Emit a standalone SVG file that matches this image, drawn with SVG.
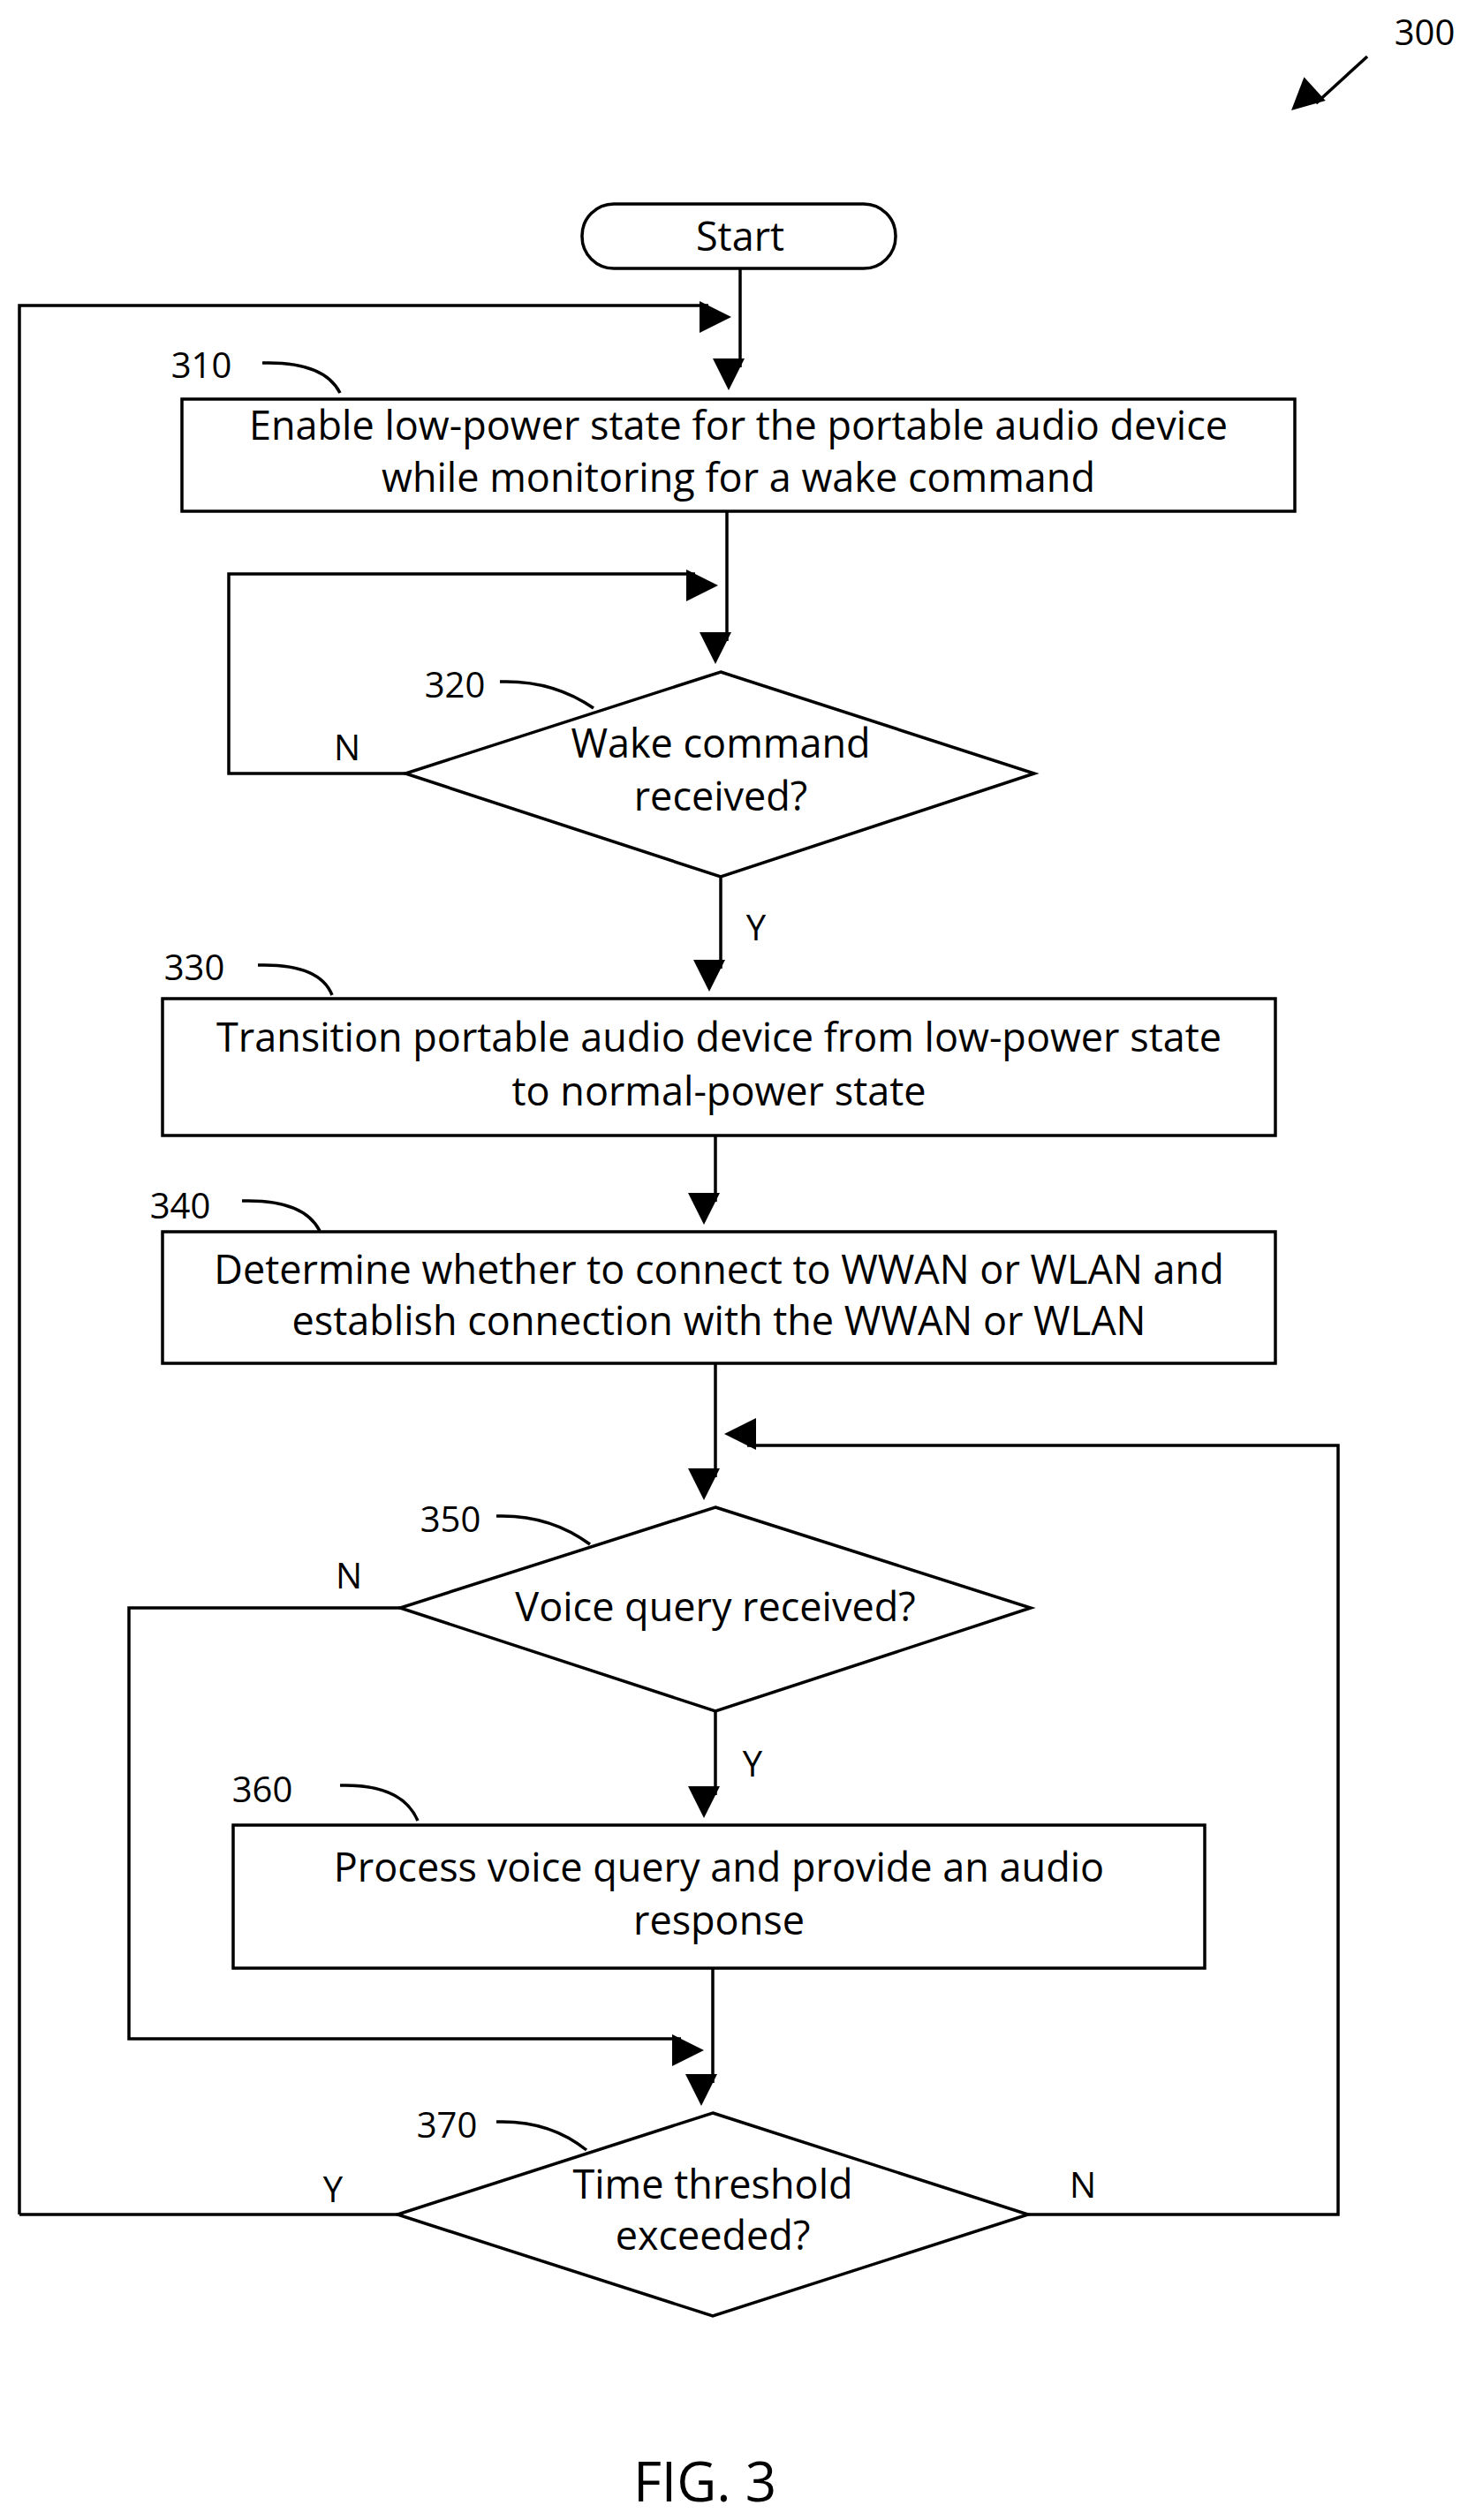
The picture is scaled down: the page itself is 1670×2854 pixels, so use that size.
<svg xmlns="http://www.w3.org/2000/svg" width="1670" height="2854" viewBox="0 0 1670 2854">
<style>
.s{fill:none;stroke:#000;stroke-width:3.5}
.n{fill:#fff;stroke:#000;stroke-width:3.5}
text{font-family:"Open Sans","Liberation Sans",sans-serif;font-size:45px;fill:#000;text-anchor:middle}
.l{font-size:40px}
</style>
<defs>
<marker id="a" viewBox="0 0 10 10" refX="10" refY="5" markerWidth="10" markerHeight="10" markerUnits="userSpaceOnUse" orient="auto" style="overflow:visible"><path d="M0,0L10,5L0,10z" transform="scale(3.6)" fill="#000"/></marker>
</defs>
<g id="connectors" class="s">
<path d="M838,304V416" marker-end="url(#a)"/>
<path d="M22,2508V346H802" marker-end="url(#a)"/>
<path d="M823,579V726" marker-end="url(#a)"/>
<path d="M459,876H259V650H787" marker-end="url(#a)"/>
<path d="M816,993V1097" marker-end="url(#a)"/>
<path d="M810,1286V1361" marker-end="url(#a)"/>
<path d="M810,1544V1673" marker-end="url(#a)"/>
<path d="M1164,2508H1515V1637H846" marker-end="url(#a)"/>
<path d="M810,1938V2033" marker-end="url(#a)"/>
<path d="M453,1821H146V2309H771" marker-end="url(#a)"/>
<path d="M807,2229V2359" marker-end="url(#a)"/>
<path d="M450,2508H22"/>
<path d="M1548,64L1490,117" marker-end="url(#a)"/>
<path d="M297,411q70,-2,88,34M566,772q60,-2,106,30M292,1093q70,-2,84,34M274,1360q70,-2,88,34M562,1717q60,-2,106,32M385,2022q70,-2,88,40M562,2403q60,-2,102,32"/>
</g>
<g id="start"><rect class="n" x="659" y="231" width="355" height="73" rx="36"/><text x="838" y="284">Start</text></g>
<g id="n310"><rect class="n" x="206" y="452" width="1260" height="127"/><text x="836" y="498">Enable low-power state for the portable audio device</text><text x="836" y="557">while monitoring for a wake command</text><text class="l" x="228" y="428">310</text></g>
<g id="n320"><path class="n" d="M816,761L1171,876L816,993L459,876z"/><text x="816" y="858">Wake command</text><text x="816" y="918">received?</text><text class="l" x="515" y="790">320</text></g>
<g id="n330"><rect class="n" x="184" y="1131" width="1260" height="155"/><text x="814" y="1191">Transition portable audio device from low-power state</text><text x="814" y="1252">to normal-power state</text><text class="l" x="220" y="1110">330</text></g>
<g id="n340"><rect class="n" x="184" y="1395" width="1260" height="149"/><text x="814" y="1454">Determine whether to connect to WWAN or WLAN  and</text><text x="814" y="1512">establish connection with the WWAN or WLAN</text><text class="l" x="204" y="1380">340</text></g>
<g id="n350"><path class="n" d="M810,1707L1167,1821L810,1938L453,1821z"/><text x="810" y="1836">Voice query received?</text><text class="l" x="510" y="1735">350</text></g>
<g id="n360"><rect class="n" x="264" y="2067" width="1100" height="162"/><text x="814" y="2131">Process voice query and provide an audio</text><text x="814" y="2191">response</text><text class="l" x="297" y="2041">360</text></g>
<g id="n370"><path class="n" d="M807,2393L1164,2508L807,2623L450,2508z"/><text x="807" y="2490">Time threshold</text><text x="807" y="2548">exceeded?</text><text class="l" x="506" y="2421">370</text></g>
<g id="labels"><text class="l" x="393" y="861">N</text><text class="l" x="856" y="1065">Y</text><text class="l" x="395" y="1799">N</text><text class="l" x="852" y="2012">Y</text><text class="l" x="377" y="2494">Y</text><text class="l" x="1226" y="2489">N</text><text class="l" x="1613" y="51">300</text><text x="798" y="2833" style="font-size:62px">FIG. 3</text></g>
</svg>
